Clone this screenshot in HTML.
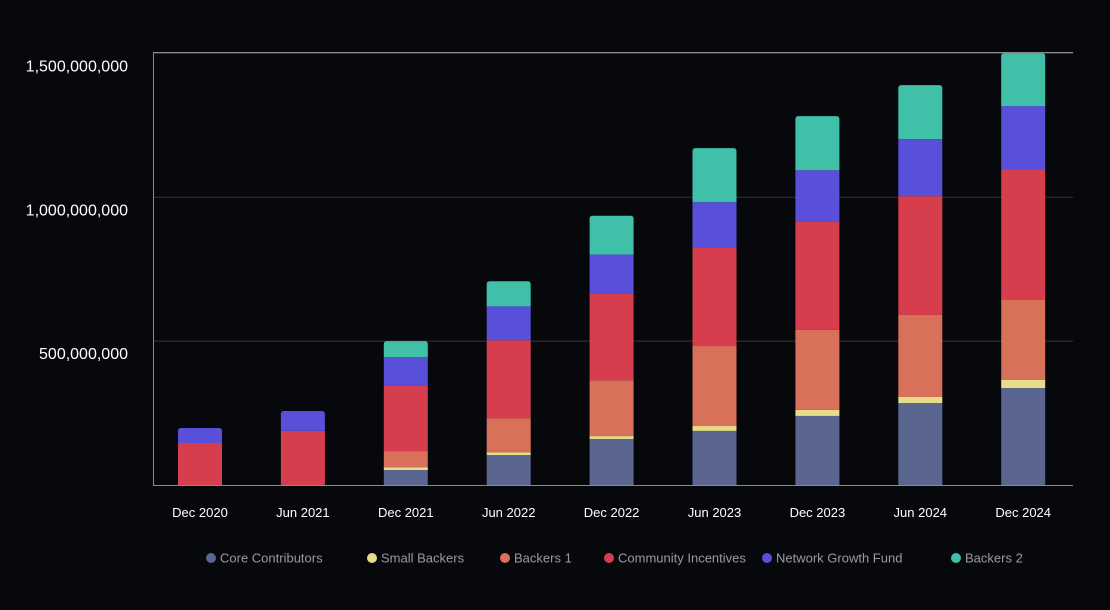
<!DOCTYPE html>
<html><head><meta charset="utf-8"><style>
html,body{margin:0;padding:0;background:#07080c;}
svg{display:block;font-family:"Liberation Sans",sans-serif;}
</style></head><body>
<svg id="chart" width="1110" height="610"></svg>
<script>
const categories=["Dec 2020","Jun 2021","Dec 2021","Jun 2022","Dec 2022","Jun 2023","Dec 2023","Jun 2024","Dec 2024"];
const seriesNames=["Core Contributors","Small Backers","Backers 1","Community Incentives","Network Growth Fund","Backers 2"];
const coreContributors=[0,0,52,104,160,188,240,285,337];
const smallBackers=[0,0,10,10,10,17,21,21,28];
const backers1=[0,0,56,118,194,278,278,285,278];
const communityIncentives=[146,188,229,271,302,344,378,413,455];
const networkGrowthFund=[52,69,97,118,135,156,177,198,219];
const backers2=[0,0,56,87,135,188,188,188,184];
const yTicks=[500,1000,1500];
const yTickLabels=["500,000,000","1,000,000,000","1,500,000,000"];
const colors=["#5a6590","#e6dc8a","#d9705a","#d63d4d","#5850d8","#40c0a8"];

const NS="http://www.w3.org/2000/svg";
const svg=document.getElementById("chart");
const L=153,R=1073,T=52,B=485,yMax=1505;
const y=v=>B-(v/yMax)*(B-T);
const x=i=>200+i*102.9;
const bw=44;
function mk(t,a){const e=document.createElementNS(NS,t);for(const k in a)e.setAttribute(k,a[k]);svg.appendChild(e);return e;}
yTicks.forEach((t,i)=>{
 const g=mk("line",{x1:L,x2:R,y1:y(t),y2:y(t),stroke:"#34353a","stroke-width":1});
 
 
 const tx=mk("text",{x:128,y:y(t)+18,fill:"#ffffff","font-size":16,"text-anchor":"end"});
 tx.textContent=yTickLabels[i];
 
 
});
const topLine=mk("line",{x1:L,x2:R,y1:T+0.5,y2:T+0.5,stroke:"#8a8b90","stroke-width":1});


const yAxis=mk("line",{x1:L+0.5,x2:L+0.5,y1:T,y2:B,stroke:"#8a8b90","stroke-width":1});


const xAxis=mk("line",{x1:L,x2:R,y1:B+0.5,y2:B+0.5,stroke:"#8a8b90","stroke-width":1});


const series=[coreContributors,smallBackers,backers1,communityIncentives,networkGrowthFund,backers2];
categories.forEach((c,i)=>{
 let acc=0;
 let topIdx=-1;series.forEach((s,j)=>{if(s[i]>0)topIdx=j;});
 series.forEach((s,j)=>{
  const v=s[i];if(v<=0)return;
  const y0=y(acc),y1=y(acc+v);acc+=v;
  let r;
  if(j===topIdx){
   const xl=x(i)-bw/2,xr=x(i)+bw/2,rr=3;
   r=mk("path",{d:`M${xl},${y0}V${y1+rr}Q${xl},${y1} ${xl+rr},${y1}H${xr-rr}Q${xr},${y1} ${xr},${y1+rr}V${y0}Z`,fill:colors[j]});
  } else r=mk("rect",{x:x(i)-bw/2,y:y1,width:bw,height:y0-y1,fill:colors[j]});
  
  
 });
 const t=mk("text",{x:x(i),y:517,fill:"#ffffff","font-size":13,"text-anchor":"middle"});
 t.textContent=c;
 
 
});
const legX=[211,372,505,609,767,956];
seriesNames.forEach((n,j)=>{
 const c=mk("circle",{cx:legX[j],cy:558,r:5,fill:colors[j]});
 
 
 const t=mk("text",{x:legX[j]+9,y:562.5,fill:"#9a9ba0","font-size":13});
 t.textContent=n;
 
 
});
</script>
</body></html>
